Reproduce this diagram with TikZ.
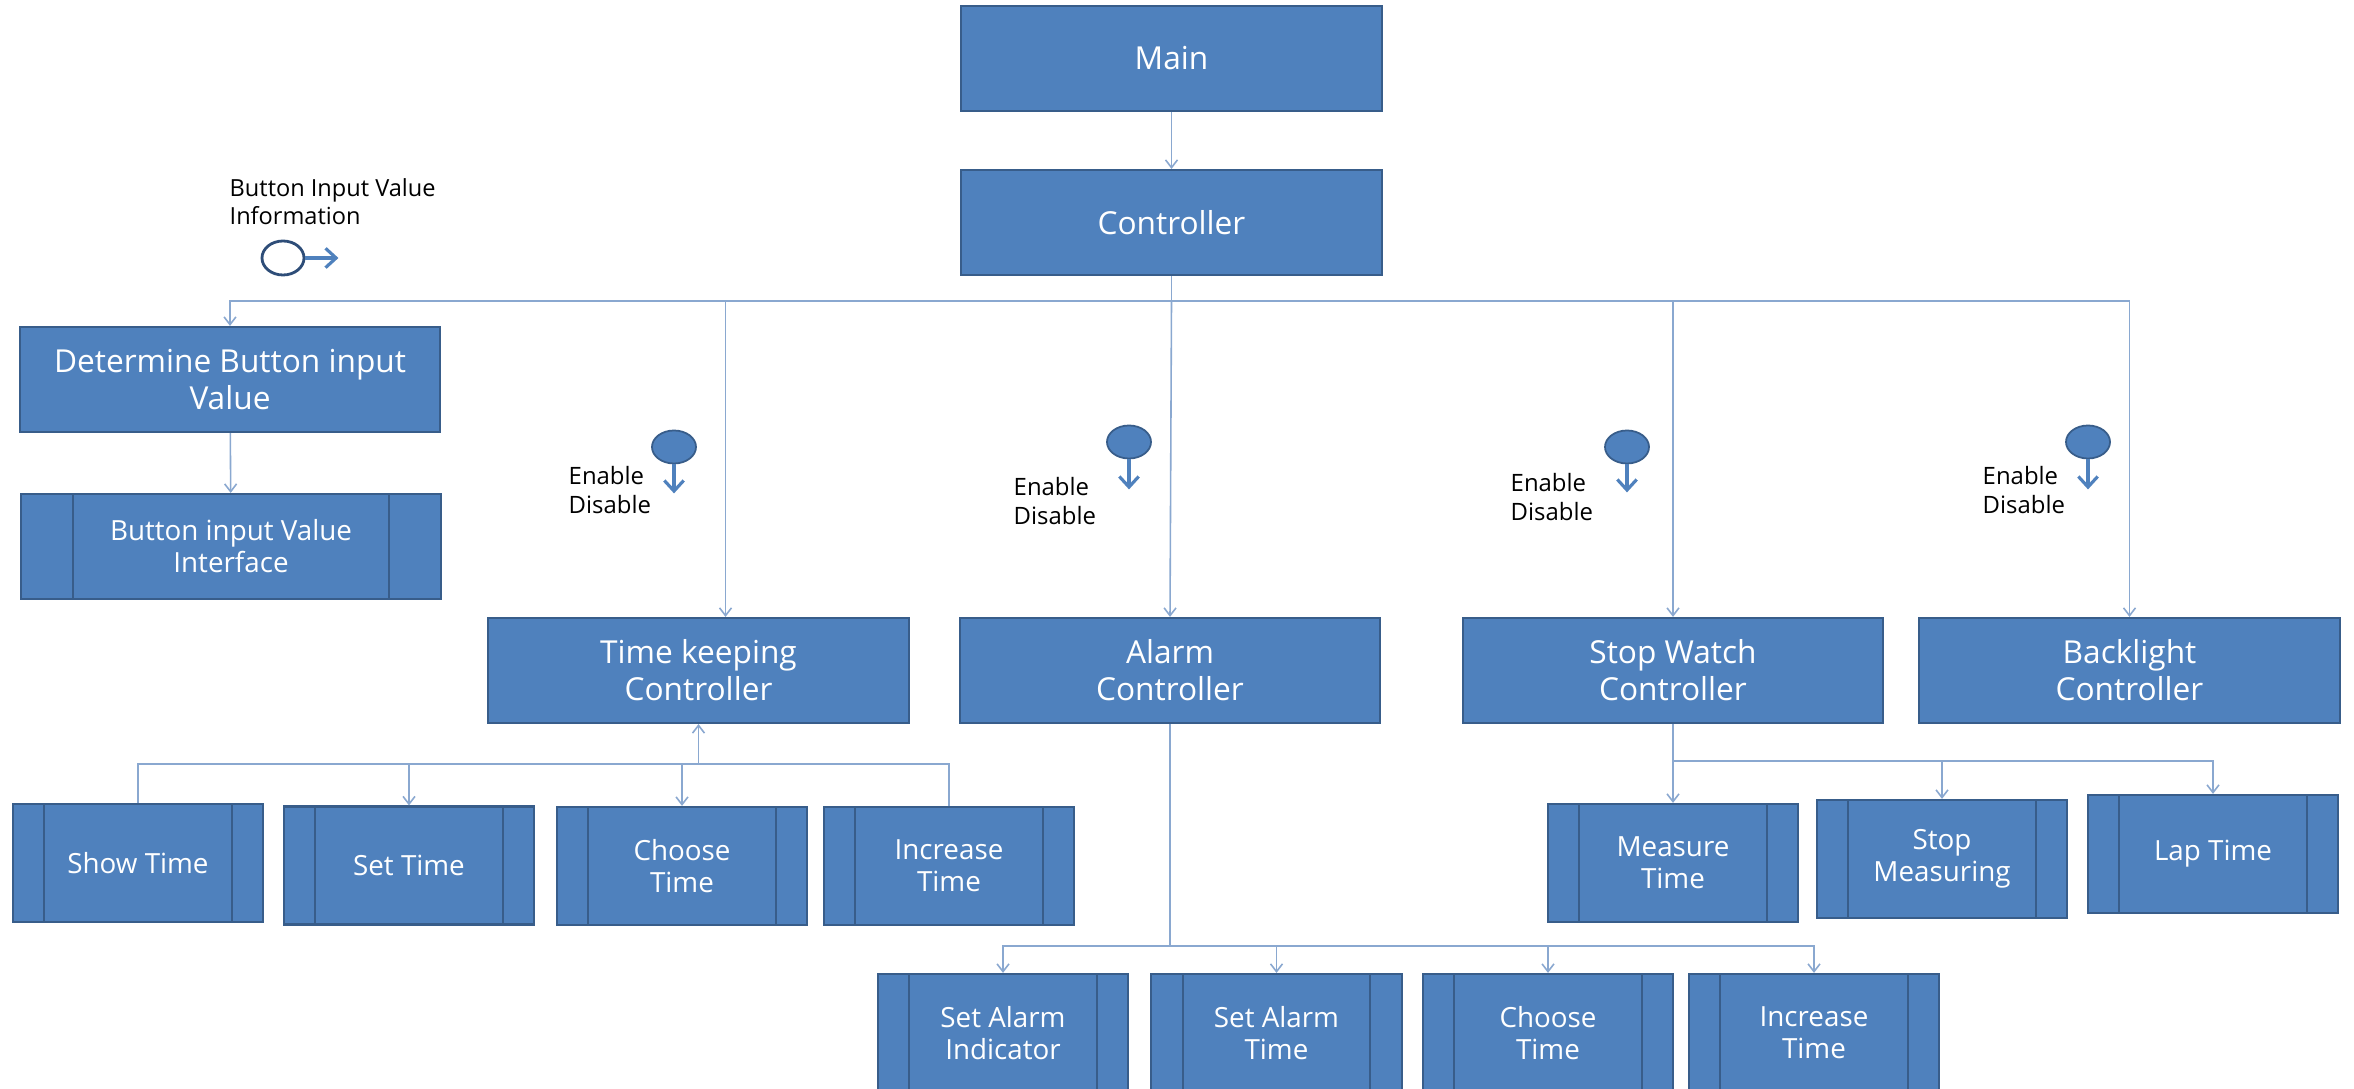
\documentclass[tikz,border=0pt]{standalone}
\usepackage{fontspec}
\setmainfont{Open Sans}
\usetikzlibrary{arrows.meta,calc,shapes.geometric}
\definecolor{boxfill}{HTML}{4F81BD}
\definecolor{boxedge}{HTML}{385D8A}
\definecolor{wirecol}{HTML}{8AA8D0}
\definecolor{pinedge}{HTML}{2E4D78}
\begin{document}
\begin{tikzpicture}[x=0.01cm,y=-0.01cm,
  box/.style={draw=boxedge, line width=0.6pt, fill=boxfill, text=white,
    align=center, inner sep=0pt},
  bigbox/.style={box, minimum width=4.2cm, minimum height=1.05cm,
    font=\fontsize{9}{10.5}\selectfont},
  subbox/.style={box, procbox, minimum width=2.5cm, minimum height=1.18cm},
  procbox/.style={font=\fontsize{7.9}{9.1}\selectfont,
    path picture={
      \draw[boxedge, line width=0.6pt]
        ($(path picture bounding box.north west)!0.125!(path picture bounding box.north east)$) --
        ($(path picture bounding box.south west)!0.125!(path picture bounding box.south east)$)
        ($(path picture bounding box.north east)!0.125!(path picture bounding box.north west)$) --
        ($(path picture bounding box.south east)!0.125!(path picture bounding box.south west)$);
    }},
  wire/.style={draw=wirecol, line width=0.45pt},
  tip/.style={-{Straight Barb[length=2.2pt,width=3.4pt]}},
  sig/.style={draw=boxfill, line width=0.9pt, -{Straight Barb[length=3pt,width=5.5pt]}},
  pin/.style={ellipse, inner sep=0pt, minimum width=0.44cm, minimum height=0.33cm,
    fill=boxfill, draw=boxedge, line width=0.5pt},
  lbl/.style={align=left, inner sep=0pt, anchor=west, text=black,
    font=\fontsize{6.8}{8.5}\selectfont},
]
\useasboundingbox (0,0) rectangle (2354,1089);
\clip (0,0) rectangle (2354,1089);
\fill[white] (0,0) rectangle (2354,1089);

% top level
\node[bigbox] (main) at (1171.5,58.5) {Main};
\node[bigbox] (ctrl) at (1171.5,222.5) {Controller};

% button input branch
\node[bigbox] (det) at (230,379.5) {Determine Button input\\Value};
\node[bigbox,procbox] (iface) at (231,546.5) {Button input Value\\Interface};

% second level controllers
\node[bigbox] (tk) at (698.5,670.5) {Time keeping\\Controller};
\node[bigbox] (alarm) at (1170,670.5) {Alarm\\Controller};
\node[bigbox] (sw) at (1673,670.5) {Stop Watch\\Controller};
\node[bigbox] (bl) at (2129.5,670.5) {Backlight\\Controller};

% time keeping modules
\node[subbox] (show) at (138,863) {Show Time};
\node[subbox] (sett) at (409,865.5) {Set Time};
\node[subbox] (tkchoose) at (682,866) {Choose\\Time};
\node[subbox] (tkinc) at (949,866) {Increase\\Time};

% stop watch modules
\node[subbox] (meas) at (1673,863) {Measure\\Time};
\node[subbox] (stopm) at (1942,859) {Stop\\Measuring};
\node[subbox] (lap) at (2213,854) {Lap Time};

% alarm modules
\node[subbox] (aind) at (1003,1033) {Set Alarm\\Indicator};
\node[subbox] (atime) at (1276.5,1033) {Set Alarm\\Time};
\node[subbox] (achoose) at (1548,1033) {Choose\\Time};
\node[subbox] (ainc) at (1814,1033) {Increase\\Time};

% legend: data flow
\node[lbl, font=\fontsize{6.7}{8}\selectfont] (info) at (229,202) {Button Input Value\\Information};
\node[ellipse, inner sep=0pt, minimum width=0.42cm, minimum height=0.34cm,
  fill=white, draw=pinedge, line width=0.8pt] (infopin) at (283,258) {};
\draw[sig] (infopin.east) -- ++(33,0);

% control flags
\node[pin] (tkpin) at (674,447) {};
\draw[sig] (tkpin.south) -- ++(0,29);
\node[lbl] (tklbl) at (568,490) {Enable\\Disable};

\node[pin] (apin) at (1129,442) {};
\draw[sig] (apin.south) -- ++(0,30);
\node[lbl] (albl) at (1013,501) {Enable\\Disable};

\node[pin] (swpin) at (1627,447) {};
\draw[sig] (swpin.south) -- ++(0,28);
\node[lbl] (swlbl) at (1510,497) {Enable\\Disable};

\node[pin] (blpin) at (2088,442) {};
\draw[sig] (blpin.south) -- ++(0,30);
\node[lbl] (bllbl) at (1982,490) {Enable\\Disable};

% connectors
\draw[wire,tip] (main) -- (ctrl);
\coordinate (bus) at ($(ctrl.south)+(0,25)$);
\draw[wire,tip] (ctrl.south) -- (bus) -| (det.north);
\draw[wire,tip] (bus) -| ([xshift=0.27cm]tk.north);
\draw[wire,tip] (bus) -- (alarm.north);
\draw[wire,tip] (bus) -| (sw.north);
\draw[wire,tip] (bus) -| (bl.north);
\draw[wire,tip] (det) -- (iface);

\coordinate (tkbus) at ($(tk.south)+(0,40)$);
\draw[wire] (show.north) |- (tkbus) -| (tkinc.north);
\draw[wire,tip] (tkbus) -- (tk.south);
\draw[wire,tip] (tkbus) -| (sett.north);
\draw[wire,tip] (tkbus) -| (tkchoose.north);

\coordinate (abus) at ($(alarm.south)+(0,222)$);
\draw[wire] (alarm.south) -- (abus);
\draw[wire,tip] (abus) -| (aind.north);
\draw[wire,tip] (abus) -| (atime.north);
\draw[wire,tip] (abus) -| (achoose.north);
\draw[wire,tip] (abus) -| (ainc.north);

\coordinate (swbus) at ($(sw.south)+(0,37)$);
\draw[wire,tip] (sw.south) -- (swbus) -- (meas.north);
\draw[wire,tip] (swbus) -| (stopm.north);
\draw[wire,tip] (swbus) -| (lap.north);
\end{tikzpicture}
\end{document}
